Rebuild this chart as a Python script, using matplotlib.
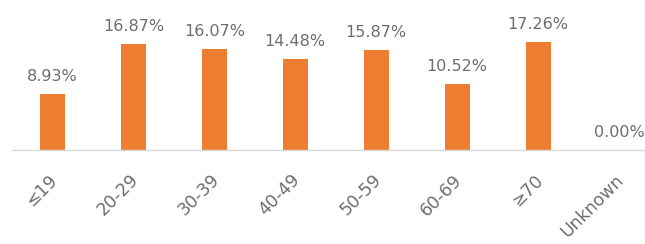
import matplotlib.pyplot as plt
import matplotlib.transforms as mtransforms

# Data
categories = ['≤19', '20-29', '30-39', '40-49', '50-59', '60-69', '≥70', 'Unknown']
percentages = [8.93, 16.87, 16.07, 14.48, 15.87, 10.52, 17.26, 0.00]

bar_color = '#ED7D31'
text_color = '#6E6E6E'

fig = plt.figure(figsize=(6.45, 2.44), dpi=100)
ax = fig.add_axes([12 / 645, 94 / 244, 633 / 645, 150 / 244])

x = range(len(categories))
bars = ax.bar(x, percentages, width=0.31, color=bar_color)

for b, v in zip(bars, percentages):
    ax.text(b.get_x() + b.get_width() / 2, v + 1.6, f'{v:.2f}%',
            ha='center', va='bottom', fontsize=11.5, color=text_color)

ax.set_xlim(-0.5, 7.32)
ax.set_ylim(0, 23.9)
ax.set_xticks(list(x))
ax.set_xticklabels(categories, rotation=45, ha='right', rotation_mode='anchor',
                   fontsize=12.5, color=text_color)
ax.tick_params(axis='x', length=0, pad=15)
# nudge the rotated labels a little to the left
shift = mtransforms.ScaledTranslation(-4 / 100, 0, fig.dpi_scale_trans)
for lab in ax.get_xticklabels():
    lab.set_transform(lab.get_transform() + shift)
ax.set_yticks([])
for side in ['top', 'right', 'left']:
    ax.spines[side].set_visible(False)
ax.spines['bottom'].set_color('#D9D9D9')
ax.spines['bottom'].set_linewidth(1)

fig.savefig('out.png', dpi=100)
